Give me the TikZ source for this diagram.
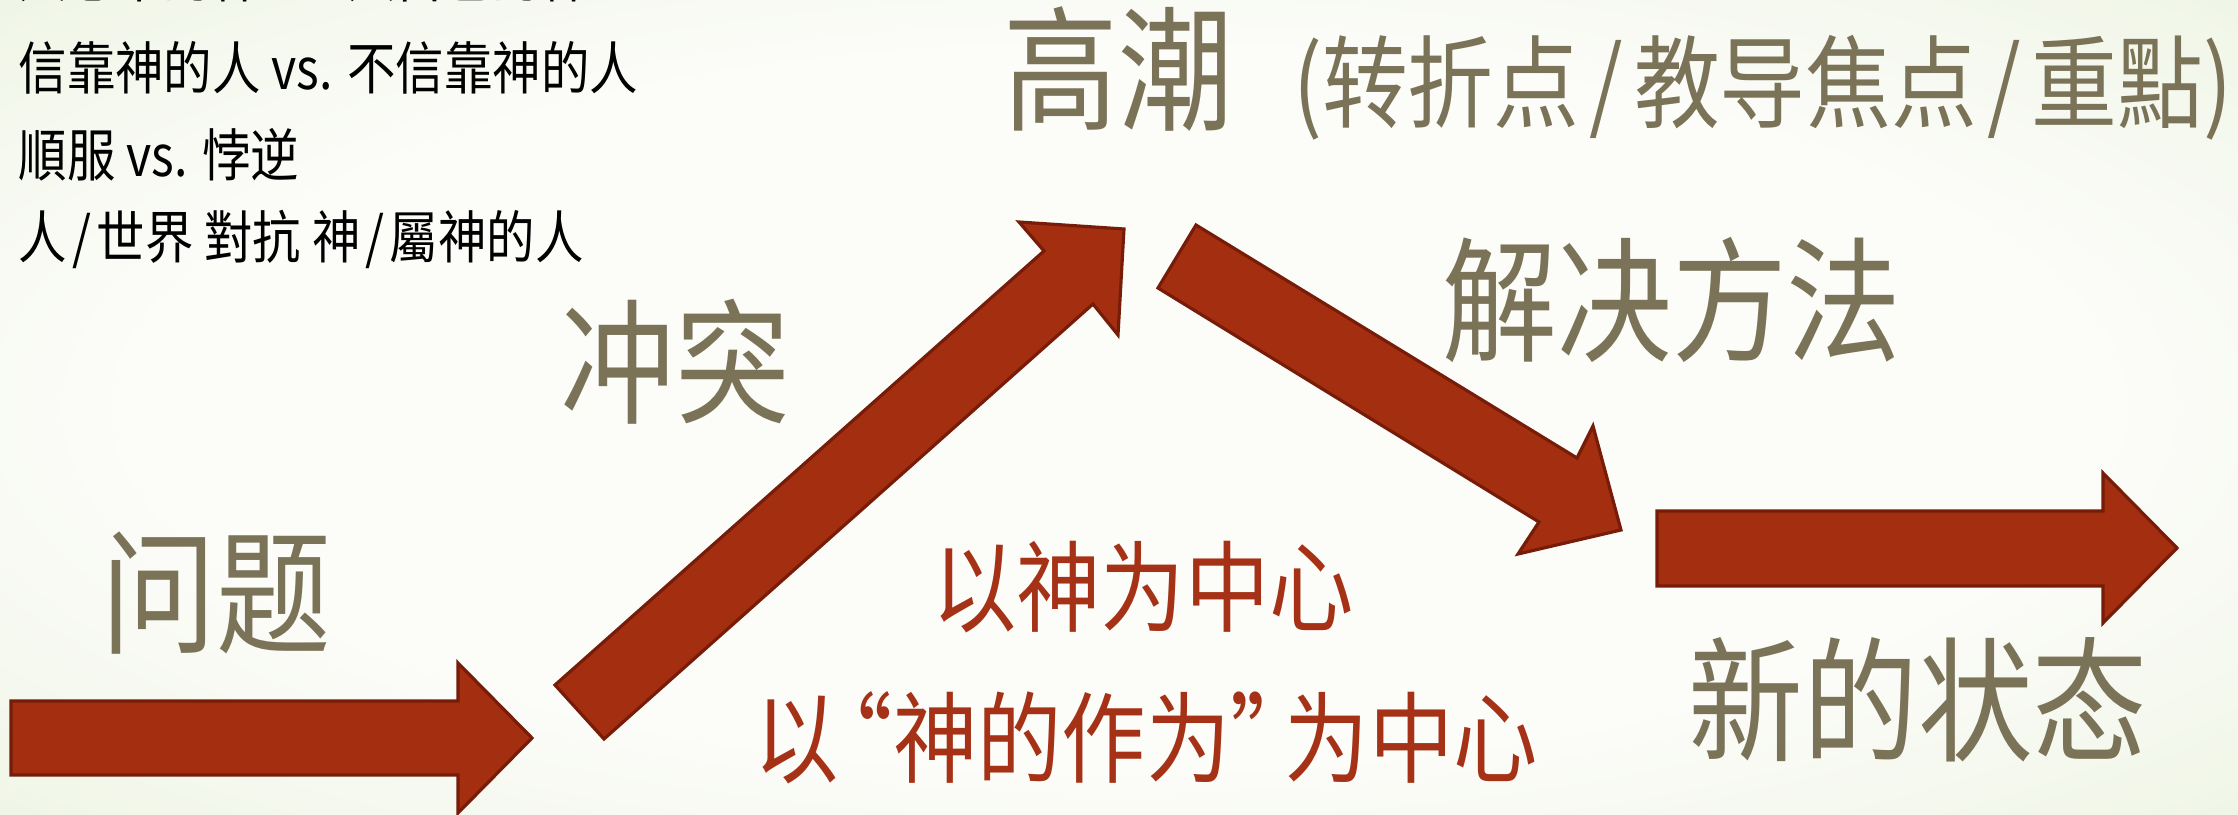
\documentclass[tikz,border=0pt]{standalone}
\usepackage{xcolor}
\usepackage{fontspec}
\usepackage{tikz}
\newfontfamily\handfont[FakeStretch=0.85]{Noto Sans CJK SC}
\definecolor{arrowred}{RGB}{163,46,16}
\definecolor{arrowdark}{RGB}{118,28,8}
\definecolor{labelgray}{RGB}{123,115,88}
\definecolor{godred}{RGB}{165,50,22}
\definecolor{bgin}{RGB}{252,252,249}
\definecolor{bgout}{RGB}{226,239,210}
\pgfdeclareradialshading{slidebg}{\pgfpoint{0bp}{0bp}}{color(0bp)=(bgin); color(22bp)=(bgin); color(50bp)=(bgout); color(71bp)=(bgout)}
\tikzstyle{blockarrow}=[fill=arrowred, draw=arrowdark, line width=0.9pt, line join=miter]
\tikzstyle{stage}=[text=labelgray, inner sep=0, font=\handfont\fontsize{38.4}{40}\selectfont]
\tikzstyle{note}=[text=black, inner sep=0, anchor=west, font=\handfont\fontsize{16.2}{17}\selectfont]
\tikzstyle{focus}=[text=godred, inner sep=0, font=\handfont\fontsize{28.2}{30}\selectfont]
\newcommand{\slsh}{\kern3pt/\kern3pt}
\newcommand{\nslsh}{\kern1.5pt/\kern1.5pt}

\begin{document}
\begin{tikzpicture}[x=0.01cm, y=-0.01cm]
\path[use as bounding box] (0,0) rectangle (2238,815);
\clip (0,0) rectangle (2238,815);
\shade[shading=slidebg] (0,0) rectangle (2238,815);
% the four block arrows
\draw[blockarrow] (11,701) -- (458,701) -- (458,663) -- (532,738) -- (458,813) -- (458,775) -- (11,775) -- cycle;
\draw[blockarrow] (604,739) -- (1093,304) -- (1118,335) -- (1124,229) -- (1019,222) -- (1044,251) -- (555,685) -- cycle;
\draw[blockarrow] (1196,225) -- (1577,458) -- (1593,426) -- (1621,530) -- (1518,554) -- (1539,522) -- (1158,288) -- cycle;
\draw[blockarrow] (1657,511) -- (2103,511) -- (2103,473) -- (2177,548) -- (2103,623) -- (2103,586) -- (1657,586) -- cycle;
% top left notes
\draw (18,-24) node[note](line1){人心中的神 vs. 人自己的神};
\draw (18,68) node[note](line2){信靠神的人 vs. 不信靠神的人};
\draw (18,155) node[note](line3){順服 vs. 悖逆};
\draw (18,239) node[note](line4){人\nslsh 世界 對抗 神\nslsh 屬神的人};
% stages
\draw (216,593) node[stage](problem){问题};
\draw (675,362) node[stage](conflict){冲突};
\draw (1003,73) node[stage, anchor=west](climax){高潮{\fontsize{28.7}{30}\selectfont \kern17pt(转折点\slsh 教导焦点\slsh 重點)}};
\draw (1672,300) node[stage](resolution){解决方法};
\draw (1918,700) node[stage](newstate){新的状态};
% centre
\draw (1143,587) node[focus](godcenter){以神为中心};
\draw (1146,738) node[focus](godwork){以\kern-.3em“神的作为”\kern-.3em为中心};
\end{tikzpicture}
\end{document}
